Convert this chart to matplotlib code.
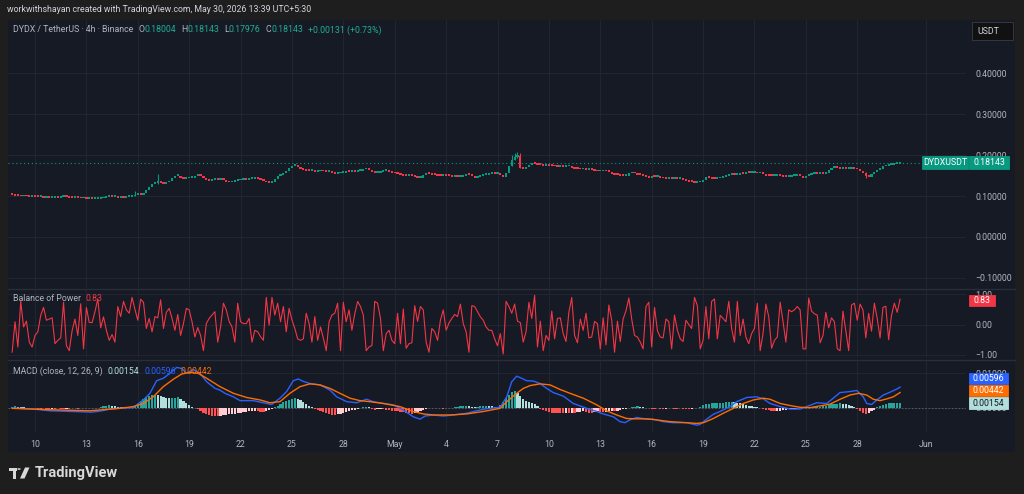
import numpy as np
import matplotlib
matplotlib.use("Agg")
import matplotlib.pyplot as plt
from matplotlib.patches import Rectangle, Circle, Polygon
from matplotlib.lines import Line2D
from matplotlib.ticker import FuncFormatter

plt.rcParams['font.family'] = ['Roboto', 'DejaVu Sans']

# ---------------- data ----------------
# time unit: days after 10 Apr (00:00); one candle = 4h
t0 = -4 / 3
first_open = 0.104
closes = [
    0.103, 0.102,                                   # Apr 8
    0.101, 0.100, 0.101, 0.100, 0.099, 0.100,       # Apr 9
    0.099, 0.098, 0.098, 0.097, 0.098, 0.097,       # Apr 10
    0.097, 0.098, 0.097, 0.098, 0.099, 0.098,       # Apr 11
    0.097, 0.096, 0.097, 0.096, 0.095, 0.096,       # Apr 12
    0.094, 0.094, 0.093, 0.094, 0.094, 0.095,       # Apr 13
    0.097, 0.098, 0.099, 0.098, 0.098, 0.097,       # Apr 14
    0.098, 0.097, 0.098, 0.098, 0.100, 0.103,       # Apr 15
    0.105, 0.104, 0.109, 0.116, 0.124, 0.130,       # Apr 16
    0.132, 0.135, 0.133, 0.131, 0.134, 0.137,       # Apr 17
    0.145, 0.149, 0.150, 0.146, 0.143, 0.144,       # Apr 18
    0.145, 0.146, 0.150, 0.154, 0.150, 0.146,       # Apr 19
    0.140, 0.138, 0.140, 0.142, 0.141, 0.142,       # Apr 20
    0.140, 0.136, 0.134, 0.136, 0.137, 0.139,       # Apr 21
    0.140, 0.142, 0.141, 0.142, 0.142, 0.143,       # Apr 22
    0.142, 0.140, 0.137, 0.134, 0.133, 0.136,       # Apr 23
    0.143, 0.150, 0.152, 0.156, 0.163, 0.170,       # Apr 24
    0.174, 0.176, 0.172, 0.168, 0.165, 0.163,       # Apr 25
    0.162, 0.162, 0.160, 0.161, 0.162, 0.161,       # Apr 26
    0.160, 0.161, 0.157, 0.155, 0.156, 0.158,       # Apr 27
    0.158, 0.160, 0.159, 0.161, 0.160, 0.162,       # Apr 28
    0.163, 0.166, 0.168, 0.164, 0.159, 0.157,       # Apr 29
    0.158, 0.160, 0.162, 0.163, 0.160, 0.157,       # Apr 30
    0.156, 0.155, 0.153, 0.151, 0.150, 0.150,       # May 1
    0.149, 0.147, 0.145, 0.146, 0.152, 0.156,       # May 2
    0.155, 0.153, 0.152, 0.151, 0.150, 0.152,       # May 3
    0.151, 0.149, 0.147, 0.148, 0.147, 0.148,       # May 4
    0.151, 0.153, 0.152, 0.149, 0.146, 0.147,       # May 5
    0.150, 0.152, 0.153, 0.155, 0.156, 0.155,       # May 6
    0.156, 0.152, 0.147, 0.158, 0.175, 0.190,       # May 7
    0.196, 0.198, 0.170, 0.168, 0.171, 0.176,       # May 8
    0.181, 0.179, 0.177, 0.176, 0.175, 0.176,       # May 9
    0.175, 0.174, 0.173, 0.172, 0.173, 0.172,       # May 10
    0.173, 0.174, 0.170, 0.168, 0.167, 0.166,       # May 11
    0.166, 0.165, 0.166, 0.164, 0.162, 0.161,       # May 12
    0.161, 0.162, 0.161, 0.160, 0.155, 0.153,       # May 13
    0.152, 0.151, 0.150, 0.151, 0.156, 0.158,       # May 14
    0.156, 0.153, 0.152, 0.150, 0.148, 0.146,       # May 15
    0.149, 0.148, 0.149, 0.146, 0.144, 0.143,       # May 16
    0.144, 0.143, 0.143, 0.142, 0.143, 0.141,       # May 17
    0.138, 0.136, 0.135, 0.133, 0.134, 0.135,       # May 18
    0.141, 0.147, 0.146, 0.143, 0.142, 0.144,       # May 19
    0.145, 0.148, 0.151, 0.153, 0.154, 0.152,       # May 20
    0.153, 0.155, 0.154, 0.158, 0.157, 0.157,       # May 21
    0.157, 0.156, 0.158, 0.155, 0.151, 0.150,       # May 22
    0.149, 0.151, 0.153, 0.151, 0.148, 0.147,       # May 23
    0.148, 0.150, 0.151, 0.152, 0.149, 0.146,       # May 24
    0.150, 0.153, 0.155, 0.156, 0.155, 0.157,       # May 25
    0.155, 0.158, 0.165, 0.170, 0.171, 0.169,       # May 26
    0.168, 0.169, 0.167, 0.168, 0.170, 0.168,       # May 27
    0.166, 0.161, 0.158, 0.150, 0.148, 0.155,       # May 28
    0.160, 0.164, 0.168, 0.173, 0.174, 0.176,       # May 29
    0.177, 0.179, 0.18004, 0.18143,                 # May 30
]
# candles with visible wicks
wick_i = [43, 51, 175, 176, 177, 178, 299]
wick_hi = [0.111, 0.154, 0.199, 0.205, 0.208, 0.204, 0.158]
wick_lo = [0.100, 0.130, 0.174, 0.188, 0.193, 0.168, 0.145]

bop = [
    -0.91, 0.09, -0.74, 0.76, -0.08, 0.11, -0.58, -0.74, -0.36, -0.24, 0.30,
    0.56, 0.14, 0.18, 0.22, -0.63, -0.52, -0.44, 0.73, -0.69, -0.86, -0.20,
    0.18, -0.36, 0.68, -0.80, 0.56, 0.07, 0.06, 0.42, 0.84, -0.11, 0.25,
    -0.19, -0.52, -0.33, -0.58, 0.59, 0.26, 0.76, 0.48, 0.37, 0.89, 0.50,
    0.14, 0.83, 0.73, -0.13, 0.20, -0.24, 0.26, 0.22, 0.81, -0.13, 0.40,
    0.53, 0.20, -0.19, 0.33, -0.36, 0.03, 0.53, 0.48, 0.09, -0.41, -0.10,
    -0.36, -0.86, 0.03, 0.20, 0.31, 0.42, -0.58, -0.08, 0.70, 0.48, 0.10,
    -0.08, -0.58, 0.70, 0.09, 0.03, 0.03, 0.20, -0.58, -0.19, -0.24, -0.40,
    -0.52, 0.89, -0.02, 0.89, 0.31, 0.70, 0.09, 0.59, -0.24, 0.53, 0.15,
    -0.13, -0.47, -0.52, -0.47, 0.37, 0.03, -0.58, 0.26, -0.52, -0.08, -0.45,
    -0.86, 0.09, 0.31, 0.37, 0.70, -0.86, 0.73, 0.09, 0.48, -0.19, 0.35,
    0.76, 0.59, 0.31, -0.86, -0.74, -0.69, 0.76, 0.70, 0.20, -0.86, -0.30,
    -0.19, -0.52, -0.63, 0.37, -0.63, 0.51, -0.78, -0.63, -0.60, 0.62, 0.10,
    0.59, 0.48, -0.58, -0.91, -0.13, -0.24, -0.52, 0.14, 0.48, -0.19, 0.05,
    0.20, 0.33, 0.26, 0.67, 0.03, -0.24, -0.91, 0.62, 0.59, 0.42, 0.25,
    0.14, -0.08, -0.19, -0.19, -0.47, -0.70, -0.30,
    -0.97, 0.76, 0.59, 0.37, 0.67, 0.11, 0.06, -0.58, -0.24, 0.73, 0.20,
    0.96, -0.74, 0.11, -0.86, -0.36, -0.52, 0.44, -0.47, 0.20, 0.22, -0.30,
    -0.56, 0.40, 0.89, -0.36, -0.60, 0.18, -0.19, 0.37, -0.44, -0.41, 0.10,
    0.03, -0.80, 0.22, -0.67, 0.64, 0.14, -0.91, 0.11, -0.56, 0.18, 0.45,
    0.87, 0.18, -0.36, -0.41, -0.58, -0.80, 0.59, 0.73, -0.74, 0.56, -0.20,
    -0.41, -0.44, 0.18, 0.09, -0.80, 0.31, -0.19, -0.47, -0.56, 0.14, 0.00,
    -0.13, 0.89, 0.62, -0.80, -0.52, 0.59, -0.47, 0.76, 0.84, -0.47, 0.30,
    0.20, 0.09, 0.76, -0.13, -0.58, 0.76, -0.36, 0.18, -0.41, -0.63, -0.30,
    -0.13, 0.70, -0.86, -0.30, 0.67, 0.26, -0.78, -0.52, -0.41, 0.73, 0.10,
    -0.58, 0.48, 0.42, 0.48, 0.59, 0.48, -0.80, -0.80, 0.87, 0.44, 0.35,
    0.31, -0.60, -0.36, 0.40, -0.11, 0.22, 0.09, -0.80, -0.86, 0.44, -0.20,
    -0.86, 0.64, 0.70, 0.14, 0.67, 0.48, -0.44, 0.37, -0.22, 0.70, 0.20,
    -0.44, 0.56, 0.60, -0.50, 0.30, 0.70, 0.40, 0.83,
]

# MACD histogram per candle, units of 1e-3
hist_e3 = [
    0.4, 0.5, 0.4, 0.3,
    0.2, 0.1, 0.0, -0.1, -0.1, -0.2, -0.2, -0.1, -0.2, -0.3, -0.2, -0.2, -0.1, -0.2,
    -0.3, -0.2, -0.2, -0.1, -0.1, -0.2, -0.1, 0.0, 0.1, 0.0, -0.1, 0.0, 0.1,
    0.3, 0.5, 0.7, 0.8, 0.7, 0.6, 0.4, 0.3,
    0.2, 0.1, 0.1, 0.2,
    0.6, 1.2, 2.0, 2.6, 3.1, 3.5, 3.7, 3.8, 3.6, 3.3, 3.1, 2.9, 2.8, 2.8, 2.9, 3.0, 2.6, 2.1,
    1.4, 0.8, 0.4, 0.1,
    -0.3, -0.8, -1.3, -1.7, -2.0, -2.2, -2.3, -2.3, -2.2, -2.0, -1.9, -1.8, -1.7, -1.6,
    -1.5, -1.3, -1.2, -1.1, -1.0, -0.9, -0.8, -0.9, -1.1, -1.2, -1.0, -0.7, -0.4,
    0.3, 0.7, 1.2, 1.6, 2.0, 2.3, 2.6, 2.8, 2.6, 2.2, 1.7, 1.2, 0.7, 0.3,
    -0.2, -0.5, -0.8, -1.1, -1.4, -1.7, -1.9, -2.0, -1.8, -1.6, -1.3, -1.1, -0.9, -0.7,
    -0.5, -0.3, -0.1,
    0.2, 0.3, 0.2,
    -0.3, -0.5, -0.4, -0.3, -0.4, -0.6, -0.7, -0.8, -0.9, -1.0, -1.1, -1.2, -1.4, -1.5,
    -1.6, -1.4, -1.1, -0.8, -0.5, -0.3,
    0.0, -0.1, 0.1, 0.0, -0.1, -0.2, -0.1, 0.1, 0.1, 0.2,
    0.3, 0.5, 0.6, 0.7, 0.5, 0.4, 0.3, 0.4, 0.5, 0.6, 0.7, 0.6, 0.5, 0.4, 0.4,
    0.8, 1.7, 2.8, 3.8, 4.6, 4.8, 4.2, 3.4, 2.6, 2.1, 1.8, 1.5, 1.1, 0.6,
    -0.3, -0.6, -0.9, -1.1, -1.3, -1.4, -1.5, -1.5, -1.5, -1.4, -1.4, -1.3, -1.3, -1.2,
    -1.1, -1.0, -1.1, -1.3, -1.4, -1.2, -1.0,
    -1.1, -1.2, -1.1, -1.0, -0.9, -0.9, -0.8, -0.6, -0.4, -0.3, -0.1,
    0.2, 0.4, 0.5, 0.4, 0.3, 0.1,
    -0.1, -0.2, -0.2, -0.1, -0.2, -0.3, -0.2, -0.1, -0.1, -0.2, -0.2, -0.1, -0.2, -0.3,
    -0.3, -0.2, -0.1, 0.0,
    0.4, 0.8, 1.0, 1.2, 1.3, 1.3, 1.4, 1.5, 1.5, 1.6, 1.7, 1.8, 1.7, 1.5, 1.3, 1.1,
    0.9, 0.7, 0.5, 0.4, 0.2, 0.1,
    -0.3, -0.5, -0.7, -0.9, -1.0, -0.9, -0.8, -0.6, -0.5, -0.4, -0.3, -0.2, -0.2, -0.1,
    0.0, 0.1, 0.0, 0.1, 0.2,
    0.3, 0.4, 0.5, 0.6, 0.8, 1.0, 1.1, 1.2, 1.3, 1.2, 1.0, 0.9, 0.7, 0.4,
    -0.4, -0.9, -1.4, -1.8, -1.5, -1.0, -0.5,
    0.3, 0.6, 0.9, 1.1, 1.3, 1.4, 1.5, 1.5, 1.54,
]

# MACD line and signal line, sampled points (day, value in 1e-3)
macd_t = [-1.33, -0.1, 0.88, 2.82, 3.31, 3.79, 4.38, 5.16, 5.74, 5.94,
          6.32, 6.71, 7.1, 7.49, 7.88, 8.27, 8.56, 8.85, 9.24, 9.63,
          10.02, 10.51, 10.8, 11.09, 11.58, 11.97, 12.74, 13.33, 13.82, 14.3,
          14.69, 15.08, 15.37, 15.66, 16.05, 16.64, 17.22, 17.61, 18.2, 18.78,
          19.36, 19.75, 20.33, 20.92, 21.5, 22.08, 22.48, 22.77, 23.25, 23.84,
          24.42, 25.2, 25.78, 26.37, 27.15, 27.54, 27.83, 28.12, 28.41, 28.7,
          29.09, 29.48, 29.87, 30.26, 30.84, 31.42, 32.21, 32.79, 33.18, 33.76,
          34.15, 34.44, 34.73, 35.13, 35.71, 36.09, 36.68, 37.26, 38.04, 38.63,
          38.82, 39.21, 39.6, 39.99, 40.57, 40.96, 41.55, 42.13, 42.52, 42.91,
          43.49, 44.08, 44.66, 45.05, 45.63, 46.22, 46.6, 46.99, 47.58, 47.97,
          48.35, 48.55, 48.84, 49.14, 49.52, 49.91, 50.3, 50.5]
macd_e3 = [0.0, -0.3, -0.8, -1.1, -1.2, -0.9, -0.3, 0.0, 0.1, 0.9,
           2.3, 4.2, 7.8, 8.5, 9.9, 11.6, 11.3, 9.9, 11.0, 9.9,
           7.5, 5.6, 5.1, 4.2, 3.2, 2.1, 2.1, 1.5, 1.0, 2.8,
           4.7, 7.8, 8.3, 7.6, 7.0, 6.6, 5.1, 3.2, 1.8, 1.5,
           2.5, 1.8, 1.3, 0.9, -0.6, -2.5, -3.2, -2.3, -2.0, -2.3,
           -2.0, -1.5, -0.8, -0.2, 0.2, 3.2, 7.5, 9.1, 8.5, 7.8,
           7.7, 7.0, 5.6, 4.4, 3.4, 1.3, -0.1, -1.0, -1.7, -2.5,
           -3.9, -4.2, -3.4, -2.7, -3.2, -3.2, -3.9, -4.2, -4.2, -4.9,
           -4.7, -3.2, -1.8, -1.0, 0.4, 1.8, 3.0, 3.2, 2.6, 1.3,
           0.4, -0.3, -0.3, 0.4, 1.5, 1.3, 2.8, 4.4, 4.7, 5.0,
           3.2, 1.3, 1.0, 2.3, 3.7, 4.5, 5.4, 5.96]
sig_t = [-1.33, 0.88, 3.2, 4.96, 5.74, 6.32, 6.9, 7.49, 8.07, 8.56,
         9.05, 9.53, 10.02, 10.8, 11.58, 12.36, 13.14, 13.72, 14.3, 14.88,
         15.47, 16.05, 16.64, 17.22, 17.8, 18.39, 18.97, 19.56, 20.33, 21.3,
         22.08, 22.66, 23.25, 24.22, 25.2, 26.17, 27.15, 27.54, 28.12, 28.51,
         28.9, 29.48, 30.07, 30.65, 31.23, 32.01, 32.79, 33.37, 33.96, 34.54,
         35.12, 35.71, 36.29, 37.07, 38.04, 38.63, 39.02, 39.6, 40.18, 40.77,
         41.35, 41.94, 42.52, 42.91, 43.49, 44.08, 44.66, 45.24, 45.83, 46.41,
         47.0, 47.58, 48.07, 48.55, 48.94, 49.33, 49.72, 50.11, 50.5]
sig_e3 = [-0.1, -0.5, -0.8, -0.1, 0.4, 1.3, 3.2, 6.1, 8.2, 9.7,
          10.2, 9.9, 8.5, 6.1, 4.2, 3.0, 2.3, 1.5, 1.8, 4.2,
          6.1, 6.9, 6.6, 5.6, 4.2, 2.8, 2.1, 1.8, 1.3, 0.4,
          -1.0, -1.7, -2.0, -2.0, -1.7, -1.0, -0.1, 1.8, 4.2, 5.6,
          6.4, 6.9, 6.6, 5.3, 4.2, 2.8, 0.9, -0.8, -2.0, -3.0,
          -3.1, -3.1, -3.4, -3.9, -4.2, -4.4, -4.2, -3.0, -1.5, -0.1,
          1.3, 2.3, 2.8, 2.5, 1.3, 0.7, 0.2, 0.1, 0.6, 1.1,
          2.5, 3.7, 4.2, 3.7, 2.5, 2.1, 2.6, 3.2, 4.42]

tick_days = [0, 3, 6, 9, 12, 15, 18, 21, 24, 27, 30, 33, 36, 39, 42, 45, 48, 52]
tick_labels = ['10', '13', '16', '19', '22', '25', '28', 'May', '4', '7',
               '10', '13', '16', '19', '22', '25', '28', 'Jun']

# ---------------- style ----------------
BG_OUT = '#1e1e1e'
BG = '#161a25'
GRID = '#222631'
TXT = '#b2b5be'
UP = '#089981'
DN = '#f23645'
W, H = 1024, 494


def fx(x):
    return x / W


def fy(y):
    return 1 - y / H


fig = plt.figure(figsize=(W / 100, H / 100), dpi=100)
fig.patch.set_facecolor(BG_OUT)
fig.add_artist(Rectangle((fx(8), fy(452)), (1015 - 8) / W, (452 - 20) / H,
                         transform=fig.transFigure, facecolor=BG, edgecolor='none', zorder=-5))

xmin, xmax = (8 - 35) / 17.13, (966 - 35) / 17.13


def pane(top, bottom):
    ax = fig.add_axes([fx(8), fy(bottom), (966 - 8) / W, (bottom - top) / H])
    ax.set_facecolor('none')
    for s in ax.spines.values():
        s.set_visible(False)
    ax.yaxis.tick_right()
    ax.tick_params(axis='y', length=0, pad=6.5, labelsize=6.3, labelcolor=TXT)
    ax.tick_params(axis='x', length=0, labelbottom=False)
    ax.set_xticks(tick_days)
    ax.grid(True, color=GRID, lw=0.7)
    ax.set_axisbelow(True)
    ax.set_xlim(xmin, xmax)
    return ax


def minus(fmt):
    return FuncFormatter(lambda v, p: (fmt % v).replace('-', '\u2212'))


# ---- price pane ----
ax_p = pane(20, 288)
ax_p.set_ylim(-0.1244, 0.5293)
ax_p.set_yticks([-0.1, 0.0, 0.1, 0.2, 0.3, 0.4])
ax_p.yaxis.set_major_formatter(minus('%.5f'))

closes_a = np.array(closes)
opens_a = np.array([first_open] + closes[:-1])
ct = t0 + np.arange(len(closes_a)) / 6
up = closes_a >= opens_a
ccol = np.where(up, UP, DN)
ax_p.vlines(ct[wick_i], wick_lo, wick_hi, colors=ccol[wick_i], lw=0.8, zorder=2)
ax_p.bar(ct, np.maximum(np.abs(closes_a - opens_a), 0.0045),
         bottom=np.minimum(closes_a, opens_a) - 0.001, width=0.13, color=ccol, lw=0, zorder=3)
ax_p.axhline(closes[-1], color=UP, lw=0.8, ls=(0, (1, 2.5)), zorder=1)

# ---- balance of power ----
ax_b = pane(290, 358)
ax_b.set_ylim(-1.1, 1.133)
ax_b.set_yticks([-1, 0, 1])
ax_b.yaxis.set_major_formatter(minus('%.2f'))
bt = t0 + np.arange(len(bop)) / 6
ax_b.plot(bt, bop, color=DN, lw=0.8)

# ---- MACD ----
ax_m = pane(361, 432)
ax_m.set_ylim(-0.00686, 0.01343)
ax_m.set_yticks([0.0, 0.01])
ax_m.yaxis.set_major_formatter(minus('%.5f'))
ax_m.tick_params(axis='x', labelbottom=True, labelsize=6.3, labelcolor=TXT, pad=6)
ax_m.set_xticklabels(tick_labels)
hist = np.array(hist_e3) * 1e-3
hcol = []
prev = 0.0
for v in hist:
    if v >= 0:
        hcol.append('#26a69a' if v >= prev else '#b2dfdb')
    else:
        hcol.append('#ff5252' if v <= prev else '#ffcdd2')
    prev = v
ht = t0 + np.arange(len(hist)) / 6
ax_m.axhline(0, color='#787b86', lw=0.6, ls=(0, (2, 2)), alpha=0.7, zorder=1)
ax_m.bar(ht, hist, width=0.13, color=hcol, lw=0, zorder=2)
ax_m.plot(macd_t, np.array(macd_e3) * 1e-3, color='#2962ff', lw=1.0, zorder=3)
ax_m.plot(sig_t, np.array(sig_e3) * 1e-3, color='#ff6d00', lw=1.0, zorder=3)

# pane separators
for yy in (289, 359.5):
    fig.add_artist(Line2D([fx(8), fx(1015)], [fy(yy), fy(yy)], color='#2a2e39', lw=1.0))

# ---------------- texts ----------------
renderer = fig.canvas.get_renderer()


def text_row(x, y, parts, size=6.3):
    for s, col, gap in parts:
        t = fig.text(fx(x), fy(y), s, color=col, fontsize=size, ha='left', va='center')
        x += t.get_window_extent(renderer).width + gap


def box(x0, y0, x1, y1, face, label, tcol='white', edge=None):
    fig.add_artist(Rectangle((fx(x0), fy(y1)), (x1 - x0) / W, (y1 - y0) / H,
                             transform=fig.transFigure, facecolor=face,
                             edgecolor=edge or face, lw=0.6, zorder=5))
    fig.text(fx((x0 + x1) / 2), fy((y0 + y1) / 2), label, color=tcol, fontsize=6.3,
             ha='center', va='center', zorder=6)


fig.text(fx(7), fy(10), 'workwithshayan created with TradingView.com, May 30, 2026 13:39 UTC+5:30',
         color='#d1d4dc', fontsize=6.3, ha='left', va='center')

VAL = '#22ab94'
text_row(13, 30, [('DYDX / TetherUS \u00b7 4h \u00b7 Binance', TXT, 5),
                  ('O', TXT, 0), ('0.18004', VAL, 5),
                  ('H', TXT, 0), ('0.18143', VAL, 5),
                  ('L', TXT, 0), ('0.17976', VAL, 5),
                  ('C', TXT, 0), ('0.18143', VAL, 5),
                  ('+0.00131 (+0.73%)', VAL, 0)])
text_row(13, 298, [('Balance of Power', TXT, 5), ('0.83', DN, 0)])
text_row(13, 371, [('MACD (close, 12, 26, 9)', TXT, 5), ('0.00154', '#b2dfdb', 5),
                   ('0.00596', '#2962ff', 5), ('0.00442', '#ff6d00', 0)])

box(972, 22, 1013, 40, '#111111', '', edge='#3a3d45')
fig.text(fx(977), fy(31), 'USDT', color='#d1d4dc', fontsize=6.3, ha='left', va='center', zorder=6)
box(922, 156, 968, 169, UP, 'DYDXUSDT')
box(969, 156, 1009, 169, UP, '0.18143')
box(969, 295, 995, 306, DN, '0.83')
box(969, 373, 1008, 384, '#2962ff', '0.00596')
box(969, 385, 1008, 396, '#ff6d00', '0.00442')
box(969, 397, 1008, 409, '#b2dfdb', '0.00154', tcol='#131722')

# TradingView logo
LOGO = '#d9d9d9'
fig.add_artist(Rectangle((fx(8.5), fy(470.5)), 8 / W, 3 / H, transform=fig.transFigure,
                         facecolor=LOGO, edgecolor='none'))
fig.add_artist(Rectangle((fx(12.5), fy(478.5)), 3.5 / W, 11 / H, transform=fig.transFigure,
                         facecolor=LOGO, edgecolor='none'))
fig.add_artist(Circle((fx(19), fy(469)), 1.7 / W, transform=fig.transFigure,
                      facecolor=LOGO, edgecolor='none'))
fig.add_artist(Polygon([(fx(20), fy(478.5)), (fx(25), fy(467.5)), (fx(29.5), fy(467.5)),
                        (fx(24.5), fy(478.5))], closed=True, transform=fig.transFigure,
                       facecolor=LOGO, edgecolor='none'))
fig.text(fx(35), fy(473), 'TradingView', color=LOGO, fontsize=10.5, fontweight='bold',
         ha='left', va='center')

fig.savefig('out.png', dpi=100, facecolor=fig.get_facecolor())
